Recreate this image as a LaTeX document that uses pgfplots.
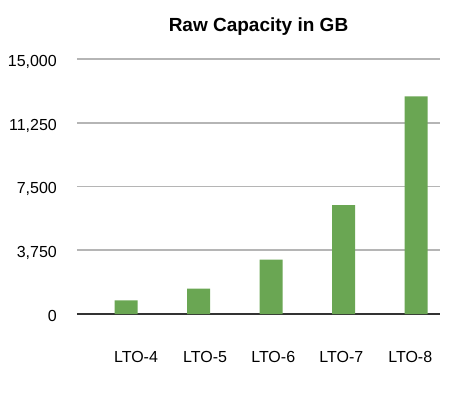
\documentclass[border=0pt]{standalone}
\usepackage{pgfplots}
\pgfplotsset{compat=1.18}
\usepackage{fontspec}
\setmainfont{Liberation Sans}
\definecolor{bargreen}{HTML}{6AA653}
\definecolor{gridgray}{HTML}{B5B5B5}
\definecolor{axisdark}{HTML}{333333}
\begin{document}
\begin{tikzpicture}
\useasboundingbox (-77bp,-91bp) rectangle (392bp,314bp);
\begin{axis}[
  at={(0,0)}, anchor=south west,
  scale only axis,
  width=363bp, height=255bp,
  xmin=-0.676, xmax=4.33,
  ymin=0, ymax=15000,
  ytick={0,3750,7500,11250,15000},
  xtick={0.138,1.09,2.03,2.97,3.92},
  xticklabels={LTO-4,LTO-5,LTO-6,LTO-7,LTO-8},
  /pgf/number format/assume math mode=true,
  scaled y ticks=false,
  yticklabel={\pgfmathprintnumber[fixed,precision=0,1000 sep={,}]{\tick}},
  axis x line*=bottom, axis y line*=left,
  x axis line style={axisdark, line width=2bp, -},
  y axis line style={draw=none, -},
  major tick length=0pt,
  ymajorgrids, grid style={gridgray, line width=1.8bp},
  font=\fontsize{16bp}{19bp}\selectfont,
  ticklabel style={font=\fontsize{16bp}{19bp}\selectfont},
  yticklabel style={anchor=base east, inner sep=0pt, xshift=-20bp, yshift=-7.5bp},
  xticklabel style={anchor=base, inner sep=0pt, yshift=-48bp},
  title={\bfseries Raw Capacity in GB},
  title style={at={(0.5,1)}, anchor=base, yshift=22bp, inner sep=0pt, font=\fontsize{19bp}{22bp}\selectfont},
  ybar, bar width=23bp,
]
\addplot[fill=bargreen, draw=none] coordinates {(0,800) (1,1500) (2,3200) (3,6400) (4,12800)};
\end{axis}
\end{tikzpicture}
\end{document}
